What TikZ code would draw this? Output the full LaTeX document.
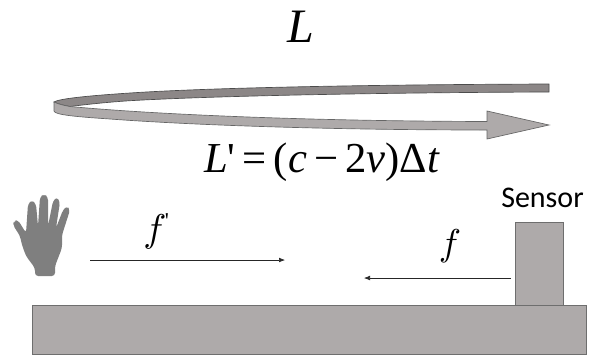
\documentclass[tikz,border=0pt]{standalone}
\usepackage{fontspec}
\setmainfont{Liberation Serif}
\newfontfamily\plainserif{Liberation Serif}
\newfontfamily\labelfont{Carlito}
\usetikzlibrary{arrows.meta}
\definecolor{boxgray}{HTML}{AEAAAA}
\definecolor{darkband}{HTML}{8C8787}
\definecolor{edgegray}{HTML}{6E6E6E}
\definecolor{handgray}{HTML}{7F7F7F}
\tikzset{
  solidbox/.style={draw=edgegray,line width=0.7pt,fill=boxgray,inner sep=0pt,outer sep=0pt,minimum width=#1},
  thinarrow/.style={draw=black!85,line width=0.45pt,-{Latex[length=4.5pt,width=3.5pt]}},
  mathtext/.style={inner sep=0pt,text=black},
}
\begin{document}
\begin{tikzpicture}[x=0.75pt,y=-0.75pt]
\useasboundingbox (0,0) rectangle (596,354);
% ribbon: upper (back) band
\draw[fill=darkband,draw=black!70,line width=0.5pt]
  (549,84) .. controls (400,84.5) and (220,87) .. (130,93)
  .. controls (100,95) and (60,98) .. (54,102)
  .. controls (58,104) and (64,105.5) .. (70,106.5)
  .. controls (90,104) and (110,102) .. (130,100.7)
  .. controls (220,95.5) and (400,92.5) .. (549,92) -- cycle;
% ribbon: lower (front) band with arrow head
\draw[fill=boxgray,draw=black!60,line width=0.5pt]
  (54,102) .. controls (58,104) and (64,105.5) .. (70,106.5)
  .. controls (150,114) and (300,121) .. (487,121.5)
  -- (487,111) -- (549,125) -- (487,139) -- (487,130)
  .. controls (330,130) and (190,125) .. (110,119)
  .. controls (80,117) and (54,115) .. (54,111) -- cycle;
% hand
\fill[handgray,rounded corners=2.4pt]
  (35,276) -- (35,268) -- (26,256) -- (22,245) -- (20,236) -- (13,225) -- (14,221) -- (18,220)
  -- (26,233) -- (28,204) -- (32,200) -- (36,204) -- (38,226) -- (40,197) -- (44,194) -- (48,197)
  -- (48,226) -- (53,201) -- (57,197) -- (60,202) -- (56,228) -- (63,210) -- (67,206) -- (70,210)
  -- (62,235) -- (62,248) -- (55,266) -- (55,276) -- cycle;
% base and sensor
\node[solidbox=554*0.75pt,minimum height=49*0.75pt,anchor=north west] (base) at (32,305) {};
\node[solidbox=48*0.75pt,minimum height=83*0.75pt,anchor=south west] (sensor) at (515,305) {};
% texts
\node[inner sep=0pt,font=\labelfont\fontsize{22.5}{24}\selectfont] (sensorlabel) at (542.5,198) {Sensor};
\node[mathtext,font=\itshape\fontsize{36}{38}\selectfont] (bigL) at (301,27) {L};
\node[inner sep=0pt,anchor=base,font=\plainserif\fontsize{32}{34}\selectfont] (formula) at (322,172)
  {\textit{L}'\,=\,(\textit{c}\,−\,2\textit{v})Δ\textit{t}};
\node[mathtext] (fprime) at (155,232) {\scalebox{2.9}{$f$}};
\node[inner sep=0pt,font=\plainserif\fontsize{17}{18}\selectfont] (primemark) at (167,221) {'};
\node[mathtext] (fplain) at (450,246) {\scalebox{2.8}{$f$}};
% arrows
\coordinate (fpstart) at (90,260);
\coordinate (fpend) at (285,260);
\coordinate (fstart) at (511,278);
\coordinate (fend) at (364,278);
\draw[thinarrow] (fpstart) -- (fpend);
\draw[thinarrow] (fstart) -- (fend);
\end{tikzpicture}
\end{document}
